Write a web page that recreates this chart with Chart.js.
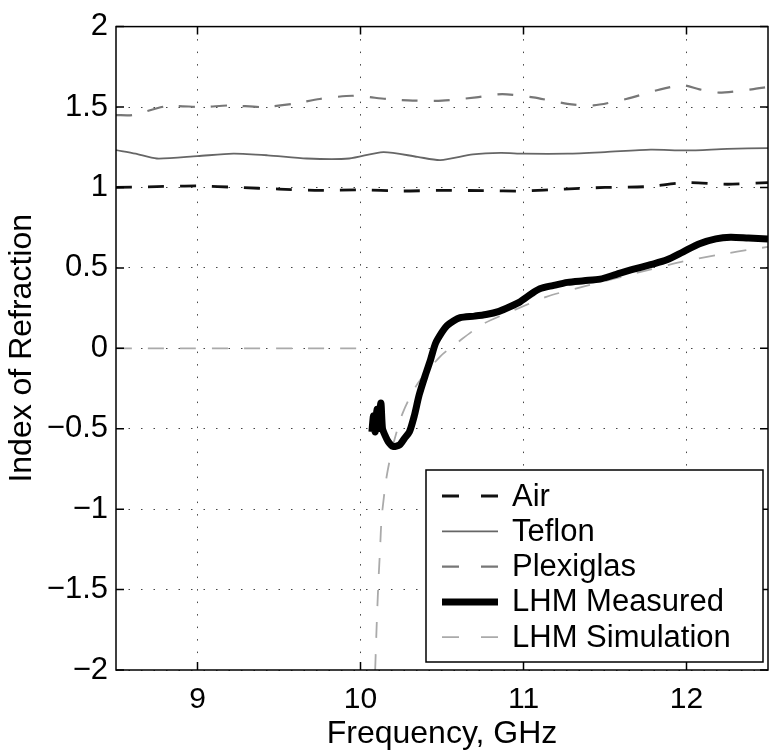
<!DOCTYPE html>
<html>
<head>
<meta charset="utf-8">
<title>Index of Refraction</title>
<script src="https://cdn.jsdelivr.net/npm/chart.js@4.4.1/dist/chart.umd.min.js"></script>
<style>
    html, body { margin: 0; padding: 0; background: #fff; }
    #wrap { width: 771px; height: 753px; }
</style>
</head>
<body>
<div id="wrap"><canvas id="chartIndice"></canvas></div>
<script>
// frequencias (GHz) e indices medidos
var airFreq = [8.5, 8.75, 9.0, 9.25, 9.5, 9.75, 10.0, 10.25, 10.5, 10.75, 11.0, 11.25, 11.5, 11.75, 12.0, 12.25, 12.5];
var airIndex = [1.0, 1.005, 1.01, 1.0, 0.99, 0.982, 0.985, 0.978, 0.982, 0.98, 0.978, 0.99, 1.0, 1.005, 1.03, 1.02, 1.03];

var teflonFreq = [8.5, 8.62, 8.75, 9.0, 9.22, 9.43, 9.67, 9.93, 10.14, 10.35, 10.49, 10.69, 10.86, 11.0, 11.27, 11.5, 11.78, 12.0, 12.25, 12.5];
var teflonIndex = [1.232, 1.21, 1.18, 1.195, 1.21, 1.2, 1.18, 1.18, 1.22, 1.19, 1.17, 1.205, 1.215, 1.21, 1.21, 1.22, 1.235, 1.23, 1.24, 1.245];

var plexiFreq = [8.5, 8.6, 8.81, 9.03, 9.2, 9.4, 9.59, 9.75, 9.95, 10.16, 10.32, 10.5, 10.71, 10.87, 11.06, 11.27, 11.43, 11.63, 11.84, 11.98, 12.08, 12.2, 12.4, 12.5];
var plexiIndex = [1.45, 1.45, 1.505, 1.5, 1.51, 1.5, 1.52, 1.55, 1.57, 1.55, 1.54, 1.54, 1.56, 1.58, 1.56, 1.52, 1.51, 1.55, 1.61, 1.635, 1.61, 1.59, 1.61, 1.625];

var lhmFreq = [10.07, 10.08, 10.09, 10.1, 10.11, 10.125, 10.135, 10.15, 10.17, 10.2, 10.24, 10.27, 10.3, 10.33, 10.36, 10.4, 10.43, 10.46, 10.5, 10.53, 10.57, 10.61, 10.7, 10.77, 10.85, 10.92, 10.98, 11.05, 11.1, 11.18, 11.27, 11.37, 11.47, 11.57, 11.67, 11.78, 11.88, 11.98, 12.08, 12.18, 12.27, 12.38, 12.5];
var lhmIndex = [-0.52, -0.42, -0.52, -0.38, -0.5, -0.34, -0.5, -0.54, -0.58, -0.61, -0.6, -0.56, -0.52, -0.42, -0.29, -0.16, -0.07, 0.03, 0.1, 0.14, 0.17, 0.19, 0.2, 0.21, 0.23, 0.26, 0.29, 0.34, 0.37, 0.39, 0.41, 0.42, 0.43, 0.46, 0.49, 0.52, 0.55, 0.6, 0.65, 0.68, 0.69, 0.685, 0.68];

// simulacao: null separa o trecho zero do ramo negativo
var simFreq = [8.5, 10.0, 10.05, 10.09, 10.1, 10.11, 10.12, 10.13, 10.16, 10.2, 10.26, 10.35, 10.49, 10.6, 10.75, 10.95, 11.14, 11.39, 11.7, 11.98, 12.19, 12.43, 12.5];
var simIndex = [0, 0, null, -2, -1.7, -1.45, -1.25, -1.05, -0.8, -0.6, -0.4, -0.22, -0.05, 0.04, 0.15, 0.24, 0.32, 0.39, 0.47, 0.54, 0.58, 0.62, 0.63];

var xTicks = [9, 10, 11, 12];
var yTickLabels = ["\u22122", "\u22121.5", "\u22121", "\u22120.5", "0", "0.5", "1", "1.5", "2"];

var fonte = '"Liberation Sans", Arial, Helvetica, sans-serif';

var pares = function (xs, ys) {
    return xs.map(function (x, i) { return {x: x, y: ys[i]}; });
};

var lineData = {
    datasets: [
        {
            label: "Air",
            data: pares(airFreq, airIndex),
            borderColor: "#111",
            borderWidth: 2.8,
            borderDash: [16, 16],
            legendDash: [17, 22]
        },
        {
            label: "Teflon",
            data: pares(teflonFreq, teflonIndex),
            borderColor: "#666",
            borderWidth: 1.8,
            borderDash: [],
            legendDash: []
        },
        {
            label: "Plexiglas",
            data: pares(plexiFreq, plexiIndex),
            borderColor: "#777",
            borderWidth: 2.2,
            borderDash: [16, 16],
            legendDash: [17, 22]
        },
        {
            label: "LHM Measured",
            data: pares(lhmFreq, lhmIndex),
            borderColor: "#000",
            borderWidth: 7,
            borderDash: [],
            legendDash: []
        },
        {
            label: "LHM Simulation",
            data: pares(simFreq, simIndex),
            borderColor: "#aaa",
            borderWidth: 1.8,
            borderDash: [16, 16],
            legendDash: [17, 22]
        }
    ]
};

// moldura, marcas internas e legenda no canto inferior direito
var molduraPlugin = {
    id: 'moldura',
    afterDraw: function (chart) {
        var ctx = chart.ctx;
        var a = chart.chartArea;
        var sx = chart.scales.x, sy = chart.scales.y;
        ctx.save();
        ctx.strokeStyle = "#000";
        ctx.lineWidth = 1.5;
        ctx.setLineDash([]);
        ctx.strokeRect(a.left, a.top, a.right - a.left, a.bottom - a.top);
        ctx.beginPath();
        xTicks.forEach(function (v) {
            var px = sx.getPixelForValue(v);
            ctx.moveTo(px, a.bottom); ctx.lineTo(px, a.bottom - 8);
            ctx.moveTo(px, a.top); ctx.lineTo(px, a.top + 8);
        });
        sy.ticks.forEach(function (t) {
            var py = sy.getPixelForValue(t.value);
            ctx.moveTo(a.left, py); ctx.lineTo(a.left + 8, py);
            ctx.moveTo(a.right, py); ctx.lineTo(a.right - 8, py);
        });
        ctx.stroke();

        // legenda
        var w = 337, h = 192;
        var bx = a.right - 5 - w, by = a.bottom - 8 - h;
        ctx.fillStyle = "#fff";
        ctx.fillRect(bx, by, w, h);
        ctx.lineWidth = 1.5;
        ctx.strokeRect(bx, by, w, h);
        ctx.font = "31px " + fonte;
        ctx.textBaseline = "middle";
        chart.data.datasets.forEach(function (ds, i) {
            var cy = by + 26 + i * 35.3;
            ctx.beginPath();
            ctx.strokeStyle = ds.borderColor;
            ctx.lineWidth = ds.borderWidth;
            ctx.setLineDash(ds.legendDash);
            ctx.moveTo(bx + 16, cy);
            ctx.lineTo(bx + 72, cy);
            ctx.stroke();
            ctx.setLineDash([]);
            ctx.fillStyle = "#000";
            ctx.fillText(ds.label, bx + 86, cy + 1);
        });
        ctx.restore();
    }
};

var lineOptions = {
    responsive: true,
    maintainAspectRatio: false,
    animation: false,
    layout: {padding: {top: 14, right: 3, left: 0, bottom: 0}},
    elements: {
        point: {radius: 0},
        line: {tension: 0.25, borderCapStyle: 'butt'}
    },
    plugins: {
        legend: {display: false},
        tooltip: {enabled: false}
    },
    scales: {
        x: {
            type: 'linear',
            min: 8.5,
            max: 12.5,
            afterBuildTicks: function (s) {
                s.ticks = xTicks.map(function (v) { return {value: v}; });
            },
            afterFit: function (s) { s.height = 83; },
            grid: {color: "#444", lineWidth: 1, drawTicks: false},
            border: {display: false, dash: [1.5, 11]},
            ticks: {
                color: "#000",
                padding: 12,
                maxRotation: 0,
                font: {family: fonte, size: 30},
                callback: function (v) { return String(v); }
            },
            title: {
                display: true,
                text: "Frequency, GHz",
                color: "#000",
                padding: {top: 0, bottom: 0},
                font: {family: fonte, size: 32}
            }
        },
        y: {
            min: -2,
            max: 2,
            afterFit: function (s) { s.width = 116; },
            grid: {color: "#444", lineWidth: 1, drawTicks: false},
            border: {display: false, dash: [1.5, 11]},
            ticks: {
                stepSize: 0.5,
                color: "#000",
                padding: 8,
                font: {family: fonte, size: 31},
                callback: function (v) {
                    return yTickLabels[Math.round((v + 2) * 2)];
                }
            },
            title: {
                display: true,
                text: "Index of Refraction",
                color: "#000",
                padding: {top: 3, bottom: 0},
                font: {family: fonte, size: 32}
            }
        }
    }
};

var ctx1 = document.getElementById("chartIndice").getContext("2d");
new Chart(ctx1, {type: 'line', data: lineData, options: lineOptions, plugins: [molduraPlugin]});
</script>
</body>
</html>
